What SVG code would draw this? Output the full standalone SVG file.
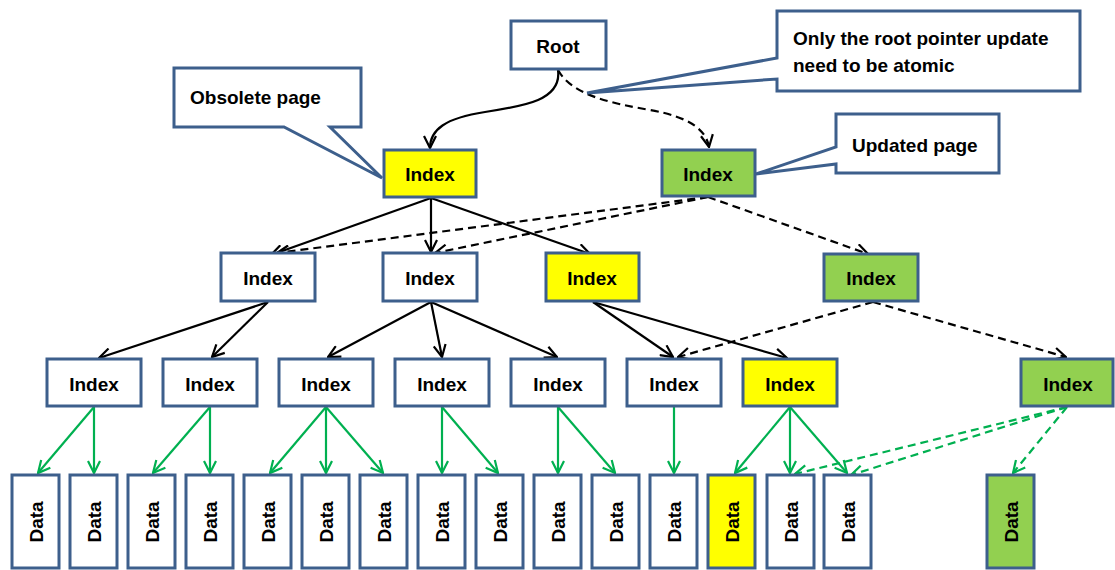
<svg xmlns="http://www.w3.org/2000/svg" width="1115" height="570" viewBox="0 0 1115 570">
<style>
.box{stroke:#3D5F8C;stroke-width:3;fill:#fff}
.y{fill:#FFFF00}
.g{fill:#92D050}
.t{font-family:"Liberation Sans",Arial,sans-serif;font-weight:bold;font-size:19px;fill:#000}
.c{text-anchor:middle}
.dt{font-family:"Liberation Sans",Arial,sans-serif;font-weight:bold;font-size:19px;fill:#000;text-anchor:middle;dominant-baseline:central}
.k{stroke:#000;stroke-width:2.2;fill:none;marker-end:url(#ak)}
.kd{stroke:#000;stroke-width:2.2;fill:none;stroke-dasharray:8,5;marker-end:url(#ak)}
.gr{stroke:#00B050;stroke-width:2.2;fill:none;marker-end:url(#ag)}
.gd{stroke:#00B050;stroke-width:2.2;fill:none;stroke-dasharray:8,5;marker-end:url(#ag)}
</style>
<defs>
<marker id="ak" viewBox="0 0 14 14" refX="13" refY="7" markerWidth="14" markerHeight="14" markerUnits="userSpaceOnUse" orient="auto">
<path d="M1,1 L13,7 L1,13" fill="none" stroke="#000" stroke-width="2.2"/>
</marker>
<marker id="ag" viewBox="0 0 14 14" refX="13" refY="7" markerWidth="14" markerHeight="14" markerUnits="userSpaceOnUse" orient="auto">
<path d="M1,1 L13,7 L1,13" fill="none" stroke="#00B050" stroke-width="2.2"/>
</marker>
</defs>
<rect width="1115" height="570" fill="#fff"/>

<g id="connectors">
<path class="k" d="M558,70 C562,100 525,106 485,112 C445,118 430,130 430,148"/>
<path class="kd" d="M558,70 C572,95 610,103 650,110 C690,117 706,130 709,147"/>
<path class="k" d="M431,198 L271,255"/>
<path class="k" d="M431,198 L431,252"/>
<path class="k" d="M431,198 L590,254"/>
<path class="kd" d="M708,197 L277,253"/>
<path class="kd" d="M708,197 L435,253"/>
<path class="kd" d="M708,197 L868,254"/>
<path class="k" d="M268,302 L99,358"/>
<path class="k" d="M268,302 L212,357"/>
<path class="k" d="M431,302 L328,357"/>
<path class="k" d="M431,302 L442,357"/>
<path class="k" d="M431,302 L557,357"/>
<path class="k" d="M593,302 L673,357"/>
<path class="k" d="M593,302 L787,358"/>
<path class="kd" d="M873,302 L678,357"/>
<path class="kd" d="M873,302 L1066,357"/>
<path class="gr" d="M94,407 L38,473"/>
<path class="gr" d="M94,407 L94,473"/>
<path class="gr" d="M210,407 L153,473"/>
<path class="gr" d="M210,407 L210,473"/>
<path class="gr" d="M326,407 L270,473"/>
<path class="gr" d="M326,407 L326,473"/>
<path class="gr" d="M326,407 L383,473"/>
<path class="gr" d="M442,407 L442,473"/>
<path class="gr" d="M442,407 L498,473"/>
<path class="gr" d="M558,407 L558,473"/>
<path class="gr" d="M558,407 L615,473"/>
<path class="gr" d="M674,407 L674,473"/>
<path class="gr" d="M790,407 L735,473"/>
<path class="gr" d="M790,407 L790,473"/>
<path class="gr" d="M790,407 L847,473"/>
<path class="gd" d="M1067,407 L795,474"/>
<path class="gd" d="M1067,407 L851,475"/>
<path class="gd" d="M1067,407 L1013,473"/>
</g>

<g id="callout-obsolete">
<path class="box" d="M174,68 H361 V127 H330 L382,178 L284,127 H174 Z"/>
<text class="t" x="190" y="104">Obsolete page</text>
</g>
<g id="callout-atomic">
<path class="box" d="M777,11 H1080 V91 H777 V79 L587,93 L777,58 Z"/>
<text class="t" x="793" y="45">Only the root pointer update</text>
<text class="t" x="793" y="72">need to be atomic</text>
</g>
<g id="callout-updated">
<path class="box" d="M836,114 H999 V173 H836 V164 L756,174 L836,147 Z"/>
<text class="t" x="852" y="152">Updated page</text>
</g>

<g id="root"><rect class="box" x="511" y="21" width="95" height="48"/><text class="t c" x="558" y="53">Root</text></g>

<g id="l1-old"><rect class="box y" x="384" y="150" width="92" height="47"/><text class="t c" x="430" y="181">Index</text></g>
<g id="l1-new"><rect class="box g" x="662" y="150" width="93" height="46"/><text class="t c" x="708" y="181">Index</text></g>

<g id="l2-1"><rect class="box" x="221" y="253" width="94" height="48"/><text class="t c" x="268" y="285">Index</text></g>
<g id="l2-2"><rect class="box" x="383" y="253" width="94" height="48"/><text class="t c" x="430" y="285">Index</text></g>
<g id="l2-3"><rect class="box y" x="546" y="253" width="93" height="48"/><text class="t c" x="592" y="285">Index</text></g>
<g id="l2-new"><rect class="box g" x="824" y="254" width="94" height="47"/><text class="t c" x="871" y="285">Index</text></g>

<g id="l3-1"><rect class="box" x="47" y="359" width="94" height="47"/><text class="t c" x="94" y="391">Index</text></g>
<g id="l3-2"><rect class="box" x="163" y="359" width="94" height="47"/><text class="t c" x="210" y="391">Index</text></g>
<g id="l3-3"><rect class="box" x="279" y="359" width="94" height="47"/><text class="t c" x="326" y="391">Index</text></g>
<g id="l3-4"><rect class="box" x="395" y="359" width="94" height="47"/><text class="t c" x="442" y="391">Index</text></g>
<g id="l3-5"><rect class="box" x="511" y="359" width="94" height="47"/><text class="t c" x="558" y="391">Index</text></g>
<g id="l3-6"><rect class="box" x="627" y="359" width="94" height="47"/><text class="t c" x="674" y="391">Index</text></g>
<g id="l3-7"><rect class="box y" x="743" y="359" width="94" height="47"/><text class="t c" x="790" y="391">Index</text></g>
<g id="l3-new"><rect class="box g" x="1021" y="359" width="92" height="47"/><text class="t c" x="1068" y="391">Index</text></g>

<g id="d1"><rect class="box" x="12" y="475" width="47" height="93"/><text class="dt" transform="translate(36,522) rotate(-90)">Data</text></g>
<g id="d2"><rect class="box" x="70" y="475" width="47" height="93"/><text class="dt" transform="translate(94,522) rotate(-90)">Data</text></g>
<g id="d3"><rect class="box" x="128" y="475" width="47" height="93"/><text class="dt" transform="translate(152,522) rotate(-90)">Data</text></g>
<g id="d4"><rect class="box" x="186" y="475" width="47" height="93"/><text class="dt" transform="translate(210,522) rotate(-90)">Data</text></g>
<g id="d5"><rect class="box" x="244" y="475" width="47" height="93"/><text class="dt" transform="translate(268,522) rotate(-90)">Data</text></g>
<g id="d6"><rect class="box" x="302" y="475" width="47" height="93"/><text class="dt" transform="translate(326,522) rotate(-90)">Data</text></g>
<g id="d7"><rect class="box" x="360" y="475" width="47" height="93"/><text class="dt" transform="translate(384,522) rotate(-90)">Data</text></g>
<g id="d8"><rect class="box" x="418" y="475" width="47" height="93"/><text class="dt" transform="translate(442,522) rotate(-90)">Data</text></g>
<g id="d9"><rect class="box" x="476" y="475" width="47" height="93"/><text class="dt" transform="translate(500,522) rotate(-90)">Data</text></g>
<g id="d10"><rect class="box" x="534" y="475" width="47" height="93"/><text class="dt" transform="translate(558,522) rotate(-90)">Data</text></g>
<g id="d11"><rect class="box" x="592" y="475" width="47" height="93"/><text class="dt" transform="translate(616,522) rotate(-90)">Data</text></g>
<g id="d12"><rect class="box" x="650" y="475" width="47" height="93"/><text class="dt" transform="translate(674,522) rotate(-90)">Data</text></g>
<g id="d13"><rect class="box y" x="708" y="475" width="47" height="93"/><text class="dt" transform="translate(732,522) rotate(-90)">Data</text></g>
<g id="d14"><rect class="box" x="767" y="475" width="47" height="93"/><text class="dt" transform="translate(791,522) rotate(-90)">Data</text></g>
<g id="d15"><rect class="box" x="824" y="475" width="47" height="93"/><text class="dt" transform="translate(848,522) rotate(-90)">Data</text></g>
<g id="d-new"><rect class="box g" x="987" y="475" width="47" height="93"/><text class="dt" transform="translate(1011,522) rotate(-90)">Data</text></g>
</svg>
